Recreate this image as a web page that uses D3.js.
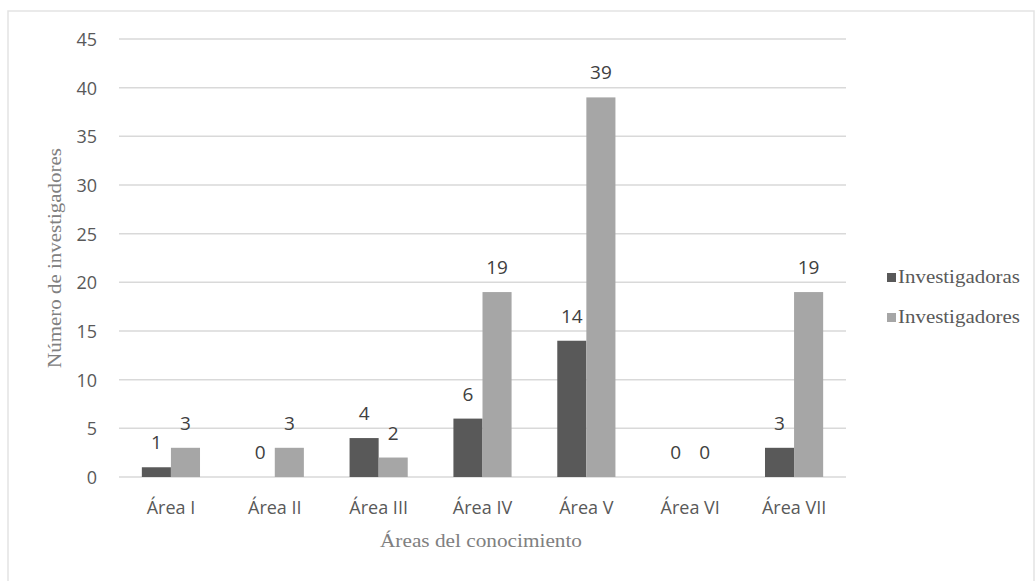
<!DOCTYPE html>
<html>
<head>
<meta charset="utf-8">
<script src="https://cdn.jsdelivr.net/npm/d3@7"></script>
<style>
  html, body { margin: 0; padding: 0; background: #ffffff; }
  svg { display: block; }
</style>
</head>
<body>
<svg id="chart" width="1036" height="581"></svg>
<script>
// Researchers by knowledge area
const categories = ["Área I", "Área II", "Área III", "Área IV", "Área V", "Área VI", "Área VII"];
const investigadoras = [1, 0, 4, 6, 14, 0, 3];
const investigadores = [3, 3, 2, 19, 39, 0, 19];
const seriesNames = ["Investigadoras", "Investigadores"];
const seriesColors = ["#595959", "#a6a6a6"];
const yTicks = [0, 5, 10, 15, 20, 25, 30, 35, 40, 45];

const svg = d3.select("#chart");

// outer frame
svg.append("rect")
  .attr("x", 8).attr("y", 11)
  .attr("width", 1026).attr("height", 600)
  .attr("fill", "none")
  .attr("stroke", "#e3e3e3")
  .attr("stroke-width", 1.5);

const plot = { left: 119, right: 846, top: 39, bottom: 477 };

const x = d3.scaleBand()
  .domain(categories)
  .range([plot.left, plot.right])
  .paddingInner(0.44)
  .paddingOuter(0.22);

const xs = d3.scaleBand()
  .domain(seriesNames)
  .range([0, x.bandwidth()]);

const y = d3.scaleLinear()
  .domain([0, 45])
  .range([plot.bottom, plot.top]);

// gridlines
svg.append("g")
  .selectAll("line")
  .data(yTicks)
  .join("line")
  .attr("x1", plot.left).attr("x2", plot.right)
  .attr("y1", d => y(d)).attr("y2", d => y(d))
  .attr("stroke", "#d9d9d9")
  .attr("stroke-width", 1.5);

// y axis tick labels
const yAxis = d3.axisLeft(y).tickValues(yTicks).tickSize(0).tickPadding(0);
const gy = svg.append("g")
  .attr("transform", `translate(${plot.left - 22},0)`)
  .call(yAxis);
gy.select(".domain").remove();
gy.selectAll("text")
  .attr("font-family", "'Open Sans', sans-serif")
  .attr("font-size", 18)
  .attr("fill", "#595959")
  .attr("dy", "0.36em");

// x axis labels
const xAxis = d3.axisBottom(x).tickSize(0).tickPadding(0);
const gx = svg.append("g")
  .attr("transform", `translate(0,${plot.bottom + 24})`)
  .call(xAxis);
gx.select(".domain").remove();
gx.selectAll("text")
  .attr("font-family", "'Open Sans', sans-serif")
  .attr("font-size", 18)
  .attr("fill", "#595959")
  .attr("dy", "0.71em");

const rows = categories.map((c, i) => ({
  cat: c,
  vals: [investigadoras[i], investigadores[i]]
}));

const groups = svg.append("g")
  .selectAll("g")
  .data(rows)
  .join("g")
  .attr("transform", d => `translate(${x(d.cat)},0)`);

groups.selectAll("rect")
  .data(d => d.vals.map((v, k) => ({ v, k })))
  .join("rect")
  .attr("x", d => xs(seriesNames[d.k]))
  .attr("width", xs.bandwidth())
  .attr("y", d => y(d.v))
  .attr("height", d => y(0) - y(d.v))
  .attr("fill", d => seriesColors[d.k]);

groups.selectAll("text")
  .data(d => d.vals.map((v, k) => ({ v, k })))
  .join("text")
  .attr("x", d => xs(seriesNames[d.k]) + xs.bandwidth() / 2)
  .attr("y", d => y(d.v) - 18)
  .attr("text-anchor", "middle")
  .attr("font-family", "'Open Sans', sans-serif")
  .attr("font-size", 19)
  .attr("fill", "#404040")
  .text(d => d.v);

// axis titles
svg.append("text")
  .attr("transform", `translate(61,258) rotate(-90)`)
  .attr("text-anchor", "middle")
  .attr("font-family", "'Liberation Serif', serif")
  .attr("font-size", 19)
  .attr("textLength", 220)
  .attr("lengthAdjust", "spacingAndGlyphs")
  .attr("fill", "#808080")
  .text("Número de investigadores");

svg.append("text")
  .attr("x", 481)
  .attr("y", 547)
  .attr("text-anchor", "middle")
  .attr("font-family", "'Liberation Serif', serif")
  .attr("font-size", 19)
  .attr("textLength", 202)
  .attr("lengthAdjust", "spacingAndGlyphs")
  .attr("fill", "#808080")
  .text("Áreas del conocimiento");

// legend
const legend = svg.append("g")
  .selectAll("g")
  .data(seriesNames)
  .join("g")
  .attr("transform", (d, i) => `translate(887,${277 + i * 40})`);

legend.append("rect")
  .attr("x", 0).attr("y", -4)
  .attr("width", 9).attr("height", 9)
  .attr("fill", (d, i) => seriesColors[i]);

legend.append("text")
  .attr("x", 11)
  .attr("y", 0)
  .attr("dy", "0.32em")
  .attr("font-family", "'Liberation Serif', serif")
  .attr("font-size", 19)
  .attr("textLength", 122)
  .attr("lengthAdjust", "spacingAndGlyphs")
  .attr("fill", "#595959")
  .text(d => d);
</script>
</body>
</html>
